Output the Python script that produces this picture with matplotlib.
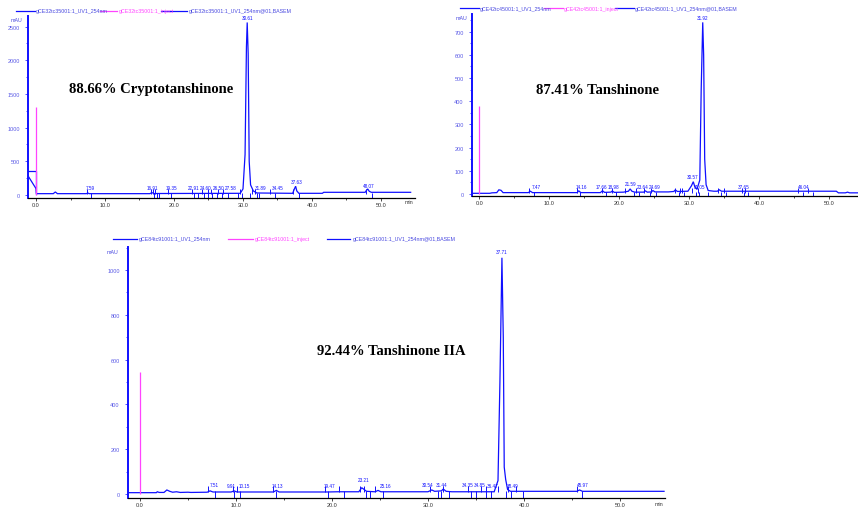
#!/usr/bin/env python3
"""Three HPLC chromatograms (Chromeleon style export)"""

import matplotlib
matplotlib.use('Agg')
import matplotlib.pyplot as plt
from matplotlib.lines import Line2D
from matplotlib.ticker import MultipleLocator, FixedLocator

W, H = 858, 510
BLUE = '#1010ff'
MAGENTA = '#ff44ff'
TICKBLUE = '#5a5ae6'

# ---- panel 1: cryptotanshinone ----
P1_T = [-1.16, 0.0, 0.05, 2.5, 2.8, 3.1, 7.3, 7.5, 7.7, 16.5, 16.8, 17.1, 29.6, 30.0,
        30.3, 30.5, 30.61, 30.75, 30.9, 31.1, 31.5, 32.0, 37.2, 37.45, 37.63, 37.8, 38.1,
        41.5, 41.7, 47.7, 47.9, 48.07, 48.3, 48.6, 54.3]
P1_Y = [285, 95, 20, 20, 45, 20, 20, 30, 20, 20, 35, 22, 25, 90,
        600, 2200, 2560, 2100, 500, 150, 60, 30, 25, 90, 130, 60, 25,
        25, 40, 40, 70, 90, 55, 40, 40]
P1_BOX_T = [-1.16, 0.0, 0.0]
P1_BOX_Y = [352, 352, 20]
P1_INJECT = 1310
P1_DROPS = [7.9, 17.1, 17.5, 17.8, 19.5, 22.9, 23.5, 24.4, 25.0, 25.5, 26.2, 26.9, 27.8,
            29.3, 29.9, 31.0, 32.0, 32.3, 34.6, 38.1, 48.7]
P1_UPS = [7.4, 16.6, 17.0, 17.3, 19.1, 22.6, 24.1, 24.9, 25.4, 26.4, 27.1, 29.5, 31.3,
          31.8, 33.9, 37.3, 47.8]
P1_LAB = ['7.59', '16.91', '19.35', '22.91', '24.60', '26.50', '27.58', '31.89', '34.45',
          '37.63', '48.07', '30.61']
P1_LAB_T = [7.8, 16.9, 19.6, 22.8, 24.6, 26.4, 28.2, 32.6, 35.0, 37.8, 48.2, 30.61]
P1_LAB_Y = [75, 75, 75, 75, 75, 75, 75, 75, 75, 165, 105, 2590]

# ---- panel 2: tanshinone ----
P2_T = [-1.04, 1.5, 1.8, 2.5, 2.8, 3.1, 3.4, 7.0, 7.3, 7.6, 14.0, 14.2, 14.5, 17.3, 17.6,
        17.9, 18.8, 19.0, 19.3, 20.6, 21.3, 21.55, 21.8, 22.2, 23.5, 23.7, 24.0, 24.6,
        24.8, 25.1, 27.0, 27.8, 28.0, 28.3, 29.8, 30.3, 30.57, 30.8, 31.1, 31.5, 31.7,
        31.92, 32.05, 32.2, 32.4, 32.7, 33.5, 34.0, 34.3, 34.6, 45.0, 51.0, 51.3, 52.3,
        52.6, 52.9, 54.1]
P2_Y = [3, 3, 5, 6, 18, 16, 6, 6, 12, 6, 6, 14, 6, 6, 14,
        7, 8, 13, 7, 8, 12, 22, 12, 8, 8, 14, 8, 9,
        15, 9, 9, 11, 18, 11, 12, 35, 53, 30, 20, 60, 450,
        740, 600, 150, 40, 15, 12, 12, 18, 12, 12, 12, 5, 5,
        8, 5, 5]
P2_INJECT = 378
P2_DROPS = [7.8, 14.4, 18.1, 19.5, 22.1, 22.8, 24.4, 25.2, 28.5, 29.3, 30.9, 31.4, 32.7,
            34.6, 35.3, 37.8, 38.4, 46.2, 47.7]
P2_UPS = [7.1, 14.0, 17.5, 18.9, 20.8, 22.4, 23.6, 24.6, 28.0, 28.7, 29.0, 30.4, 31.2,
          34.1, 35.0, 37.5, 37.9, 45.6, 47.0]
P2_LAB = ['7.47', '14.16', '17.66', '18.98', '21.59', '23.64', '24.69', '30.57', '31.05',
          '31.92', '37.65', '46.04']
P2_LAB_T = [8.1, 14.6, 17.4, 19.2, 21.6, 23.4, 25.1, 30.5, 31.4, 31.92, 37.7, 46.4]
P2_LAB_Y = [20, 20, 20, 20, 35, 20, 20, 65, 20, 752, 20, 20]

# ---- panel 3: tanshinone IIA ----
P3_T = [-1.25, 1.7, 1.8, 2.0, 2.5, 2.8, 3.1, 3.4, 3.8, 4.2, 5.0, 5.3, 7.0, 7.3, 7.6,
        9.5, 9.8, 10.1, 13.9, 14.2, 14.5, 19.5, 20.6, 22.8, 23.1, 23.3, 23.6, 24.5,
        24.8, 25.1, 30.0, 30.4, 30.7, 31.4, 31.6, 31.9, 32.5, 36.9, 37.3, 37.5, 37.71,
        37.85, 37.95, 38.1, 38.3, 38.6, 39.2, 45.5, 45.8, 46.1, 54.6]
P3_Y = [6, 6, 10, 7, 7, 18, 12, 8, 10, 7, 8, 7, 8, 14, 9,
        9, 14, 9, 9, 16, 9, 9, 10, 10, 28, 22, 12, 10,
        16, 10, 10, 18, 12, 14, 22, 12, 10, 10, 60, 500, 1055,
        700, 120, 65, 20, 12, 12, 12, 18, 12, 12]
P3_INJECT = 545
P3_DROPS = [7.8, 9.8, 10.4, 14.2, 19.6, 21.3, 23.5, 24.0, 25.3, 31.0, 31.4, 32.2, 34.5,
            35.0, 36.1, 36.6, 38.1, 38.7, 39.9, 46.1]
P3_UPS = [7.1, 9.7, 10.1, 13.9, 19.3, 20.7, 22.9, 23.3, 24.5, 30.2, 31.6, 34.2, 35.5,
          36.0, 37.3, 38.3, 39.2, 45.5]
P3_LAB = ['7.51', '9.91', '10.15', '14.13', '19.47', '23.21', '25.16', '30.54', '31.44',
          '34.35', '34.85', '36.47', '38.49', '45.97', '37.71']
P3_LAB_T = [7.7, 9.5, 10.9, 14.3, 19.7, 23.3, 25.6, 30.0, 31.4, 34.1, 35.4, 36.7, 38.8,
            46.1, 37.71]
P3_LAB_Y = [30, 28, 28, 28, 28, 55, 28, 30, 30, 30, 30, 28, 28, 30, 1070]

TITLES = ['88.66% Cryptotanshinone', '87.41% Tanshinone', '92.44% Tanshinone IIA']
SAMPLES = ['gCE32tc35001', 'gCE42tc45001', 'gCE84tc91001']
Y_TICKS = [[0, 500, 1000, 1500, 2000, 2500],
           [0, 100, 200, 300, 400, 500, 600, 700],
           [0, 200, 400, 600, 800, 1000]]


def px_rect(left, top, right, bottom):
    return [left / W, 1 - bottom / H, (right - left) / W, (bottom - top) / H]


def fig_text(fig, x, y, s, **kw):
    fig.text(x / W, 1 - y / H, s, **kw)


def draw_panel(fig, rect, xlim, ylim, t, y, inject, drops, ups, up_h, labs, lab_t, lab_y,
               yticks, yminor, box=None):
    ax = fig.add_axes(rect)
    ax.set_xlim(*xlim)
    ax.set_ylim(*ylim)
    ax.patch.set_alpha(0)

    ax.plot(t, y, color=BLUE, lw=0.9, solid_joinstyle='miter')
    if box is not None:
        ax.plot(box[0], box[1], color=BLUE, lw=0.9)
    ax.vlines([0.0], 0, inject, color=MAGENTA, lw=0.9)

    # integration marks: drop lines down to the axis, short starts above the baseline
    base = min(y[2:])
    ax.vlines(drops, ylim[0], base + up_h * 0.2, color=BLUE, lw=0.7)
    ax.vlines(ups, base, base + up_h, color=BLUE, lw=0.7)

    for s, xt, yt in zip(labs, lab_t, lab_y):
        ax.text(xt, yt, s, fontsize=3.3, color=BLUE, ha='center', va='bottom',
                family='Liberation Sans')

    for side in ('top', 'right'):
        ax.spines[side].set_visible(False)
    ax.spines['left'].set_color(BLUE)
    ax.spines['left'].set_linewidth(1.4)
    ax.spines['bottom'].set_color('black')
    ax.spines['bottom'].set_linewidth(0.9)

    ax.xaxis.set_major_locator(FixedLocator([0, 10, 20, 30, 40, 50]))
    ax.xaxis.set_minor_locator(MultipleLocator(5))
    ax.set_xticklabels(['0.0', '10.0', '20.0', '30.0', '40.0', '50.0'])
    ax.yaxis.set_major_locator(FixedLocator(yticks))
    ax.yaxis.set_minor_locator(MultipleLocator(yminor))
    ax.set_yticklabels([str(v) for v in yticks])

    ax.tick_params(axis='x', which='both', direction='out', length=2, width=0.5,
                   color='black', labelsize=4, labelcolor='#333333', pad=1)
    ax.tick_params(axis='x', which='minor', length=1.2)
    ax.tick_params(axis='y', which='both', direction='out', length=2, width=0.5,
                   color=BLUE, labelsize=4, labelcolor=TICKBLUE, pad=4)
    ax.tick_params(axis='y', which='minor', length=1.2)
    for lab in ax.get_xticklabels() + ax.get_yticklabels():
        lab.set_family('Liberation Sans')
    return ax


def legend_row(fig, y, segs, sample):
    names = [f'{sample}:1_UV1_254nm', f'{sample}:1_inject',
             f'{sample}:1_UV1_254nm@01,BASEM']
    cols = [BLUE, MAGENTA, BLUE]
    tcols = ['#4848e0', MAGENTA, '#4848e0']
    for (x0, x1, xt), name, c, tc in zip(segs, names, cols, tcols):
        fig.add_artist(Line2D([x0 / W, x1 / W], [1 - y / H, 1 - y / H], color=c, lw=0.9))
        fig_text(fig, xt, y, name, fontsize=3.8, color=tc, va='center', ha='left',
                 family='Liberation Sans')


fig = plt.figure(figsize=(W / 100, H / 100), dpi=100)

draw_panel(fig, px_rect(28, 17, 415, 198.7), (-1.16, 54.93), (-40, 2656),
           P1_T, P1_Y, P1_INJECT, P1_DROPS, P1_UPS, 65, P1_LAB, P1_LAB_T, P1_LAB_Y,
           Y_TICKS[0], 250, box=(P1_BOX_T, P1_BOX_Y))
draw_panel(fig, px_rect(472, 15, 858, 197), (-1.04, 54.1), (-8.6, 776),
           P2_T, P2_Y, P2_INJECT, P2_DROPS, P2_UPS, 22, P2_LAB, P2_LAB_T, P2_LAB_Y,
           Y_TICKS[1], 50)
draw_panel(fig, px_rect(128, 248, 665, 498.5), (-1.25, 54.7), (-15.6, 1103),
           P3_T, P3_Y, P3_INJECT, P3_DROPS, P3_UPS, 30, P3_LAB, P3_LAB_T, P3_LAB_Y,
           Y_TICKS[2], 100)

# legends
legend_row(fig, 11.7, [(16, 35, 36), (100, 117, 119), (161, 187, 189)], SAMPLES[0])
legend_row(fig, 9, [(460, 479, 480), (544, 563, 564), (615, 634, 635)], SAMPLES[1])
legend_row(fig, 239.7, [(113, 137, 139), (228, 253, 255), (327, 350, 353)], SAMPLES[2])

# axis units
for x, y in [(17, 21), (462, 18), (113, 252)]:
    fig_text(fig, x, y, 'mAU', fontsize=3.8, color='#4848e0', ha='center', va='center',
             family='Liberation Sans')
for x, y in [(409, 203), (659, 505)]:
    fig_text(fig, x, y, 'min', fontsize=3.8, color='#333333', ha='center', va='center',
             family='Liberation Sans')

# purity annotations
for (x, y), s in zip([(151.5, 90), (597, 90), (391, 352)], TITLES):
    fig_text(fig, x, y, s, fontsize=10.5, fontweight='bold', ha='center', va='center',
             family='Liberation Serif', color='black')

fig.savefig('out.png', dpi=100)
